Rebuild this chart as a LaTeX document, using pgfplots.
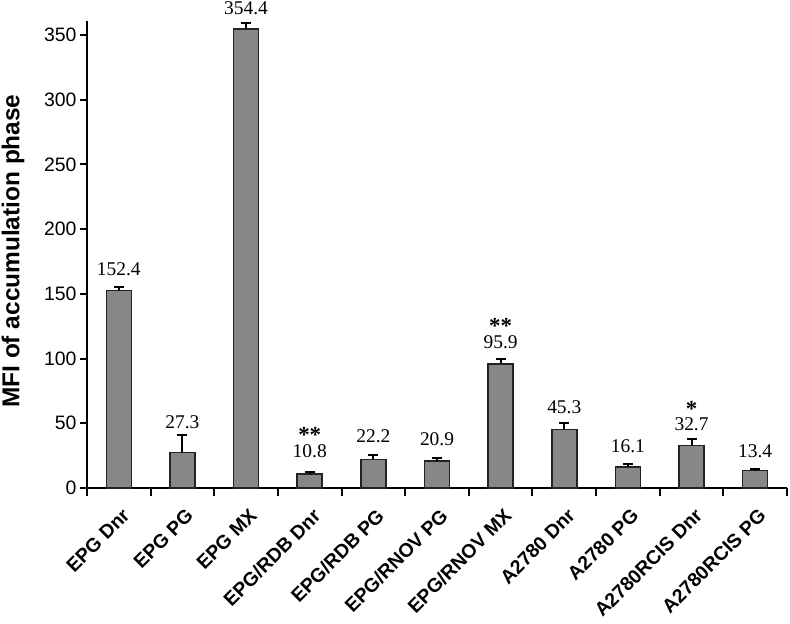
\documentclass[border=0pt]{standalone}
\usepackage{pgfplots}
\pgfplotsset{compat=1.18}
\usepackage{pgfplotstable}
\usepackage{fontspec}
\setmainfont{Liberation Serif}
\newfontfamily\arial{Liberation Sans}
\definecolor{barfill}{RGB}{135,135,135}
\definecolor{bardraw}{RGB}{35,35,35}

\pgfplotstableread{
x  y      err  ly     lab
0  152.4  2.5  163.8  152.4
1  27.3   14   46.3   27.3
2  354.4  5    365.4  354.4
3  10.8   1.3  23.9   10.8
4  22.2   3    34.8   22.2
5  20.9   2.3  33.2   20.9
6  95.9   3.5  108.1  95.9
7  45.3   4.7  57.9   45.3
8  16.1   2.8  27.8   16.1
9  32.7   4.8  44.8   32.7
10 13.4   1.6  23.9   13.4
}\datatable

\pgfplotstableread{
x  sy     star
3  34.8   **
6  119.0  **
9  55.6   *
}\startable

\begin{document}
\begin{tikzpicture}
\begin{axis}[
  name=ax,
  scale only axis,
  width=700bp, height=467.3bp,
  xmin=-0.5, xmax=10.5,
  ymin=0, ymax=361,
  axis x line=bottom, axis y line=left,
  axis line style={-, line width=2.2bp, black},
  clip=false,
  tick align=outside,
  major tick length=7bp,
  minor tick length=8bp,
  tick style={line width=2bp, black},
  ytick={0,50,...,350},
  xtick={0,...,10},
  major x tick style={draw=none},
  minor xtick={-0.5,0.5,...,10.5},
  xticklabels={EPG Dnr, EPG PG, EPG MX, EPG/RDB Dnr, EPG/RDB PG, EPG/RNOV PG, EPG/RNOV MX, A2780 Dnr, A2780 PG, A2780RCIS Dnr, A2780RCIS PG},
  xticklabel style={xshift=9.7bp, yshift=-15bp, rotate=45, anchor=east, font=\arial\bfseries\fontsize{19.5}{20}\selectfont},
  yticklabel style={font=\arial\fontsize{19.5}{20}\selectfont},
  /pgf/number format/assume math mode=true,
  ylabel={MFI of accumulation phase},
  ylabel style={font=\arial\bfseries\fontsize{24.5}{25}\selectfont, at={(axis description cs:-0.0967,0.507)}, anchor=base},
]
\addplot[ybar, bar width=25bp, fill=barfill, draw=bardraw, line width=1.5bp,
  error bars/.cd, y dir=plus, y explicit,
  error bar style={line width=2bp, black},
  error mark options={rotate=90, mark size=5bp, line width=2bp, black}]
  table[x=x, y=y, y error=err] {\datatable};
\addplot[draw=none, mark=none, nodes near coords, point meta=explicit symbolic,
  every node near coord/.append style={anchor=base, inner sep=0pt, font=\fontsize{19.5}{20}\selectfont, text=black}]
  table[x=x, y=ly, meta=lab] {\datatable};
\addplot[draw=none, mark=none, nodes near coords, point meta=explicit symbolic,
  every node near coord/.append style={anchor=base, inner sep=0pt, font=\bfseries\fontsize{23}{23}\selectfont, text=black}]
  table[x=x, y=sy, meta=star] {\startable};
\end{axis}
\pgfresetboundingbox
\path[use as bounding box] ([shift={(-87bp,-136bp)}]ax.south west) rectangle ([shift={(703bp,488bp)}]ax.south west);
\end{tikzpicture}
\end{document}
